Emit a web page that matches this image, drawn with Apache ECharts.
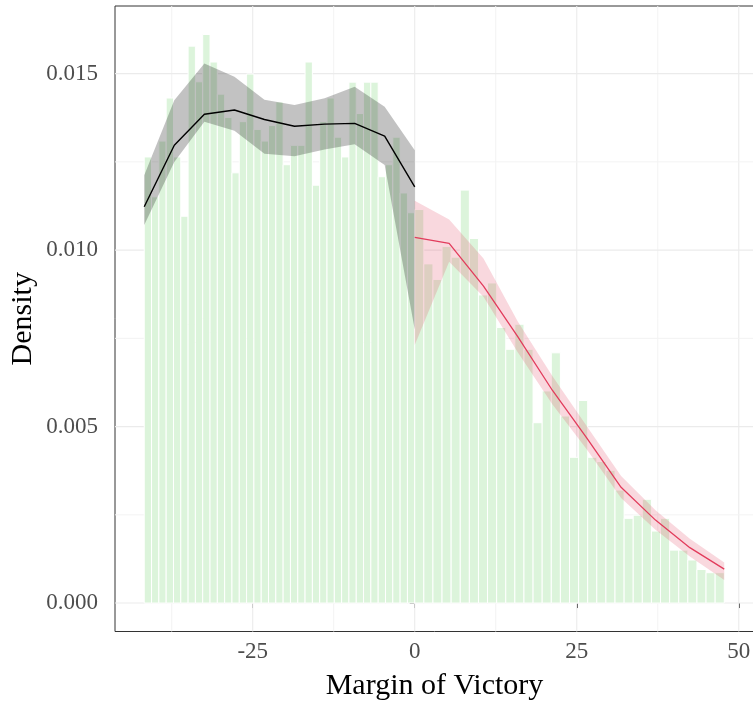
<!DOCTYPE html>
<html><head><meta charset="utf-8">
<script src="https://cdn.jsdelivr.net/npm/echarts@6/dist/echarts.min.js"></script>
<style>html,body{margin:0;padding:0;background:#fff}#c{width:753px;height:703px}</style>
</head><body><div id="c"></div>
<script>
// ---- data ----
const leftBinStart = -41.74, leftBinEnd = 0;
const rightBinStart = 0, rightBinEnd = 47.76;
const leftDensity = [0.01264,0.01151,0.01309,0.01431,0.01264,0.01096,0.01578,0.01477,0.01611,0.01533,
  0.01442,0.01376,0.01219,0.01364,0.01499,0.01342,0.01309,0.01353,0.01420,0.01242,
  0.01297,0.01297,0.01533,0.01184,0.01364,0.01431,0.01320,0.01264,0.01476,0.01387,
  0.01476,0.01476,0.01208,0.01242,0.01320,0.01162,0.01106];
const rightDensity = [0.01115,0.00961,0.00917,0.01010,0.00980,0.01170,0.01033,0.00873,0.00907,0.00781,
  0.00719,0.00790,0.00719,0.00511,0.00601,0.00709,0.00530,0.00413,0.00574,0.00413,
  0.00401,0.00376,0.00320,0.00240,0.00249,0.00294,0.00204,0.00240,0.00150,0.00150,
  0.00122,0.00095,0.00086,0.00086];
const blackX  = [-41.74,-37.10,-32.46,-27.82,-23.19,-18.55,-13.91,-9.27,-4.64,0];
const blackFit= [0.01123,0.01297,0.01385,0.01397,0.01370,0.01351,0.01357,0.01359,0.01323,0.01179];
const blackLo = [0.01071,0.01250,0.01364,0.01338,0.01273,0.01266,0.01285,0.01300,0.01241,0.00775];
const blackHi = [0.01212,0.01425,0.01529,0.01491,0.01426,0.01411,0.01430,0.01463,0.01406,0.01283];
const redX  = [0,5.31,10.61,15.92,21.23,26.53,31.84,37.15,42.45,47.76];
const redFit= [0.01036,0.01019,0.00898,0.00754,0.00603,0.00468,0.00328,0.00235,0.00157,0.00096];
const redLo = [0.00731,0.00967,0.00868,0.00710,0.00563,0.00436,0.00298,0.00208,0.00132,0.00065];
const redHi = [0.01140,0.01087,0.00976,0.00797,0.00643,0.00502,0.00360,0.00263,0.00182,0.00115];
const xTicks = [-25,0,25,50];
const xMinorGrid = [-37.5,-12.5,12.5,37.5];
const yTicks = [0,0.005,0.010,0.015];
const yMinorGrid = [0.0025,0.0075,0.0125];
const xLabel = 'Margin of Victory', yLabel = 'Density';

// ---- build ----
const X_MIN = -46.25, X_MAX = 52.35, Y_MIN = -0.000806, Y_MAX = 0.016917;
function bins(start, end, vals){
  const w = (end-start)/vals.length;
  return vals.map((v,i)=>[start+i*w, start+(i+1)*w, v]);
}
const barData = bins(leftBinStart,leftBinEnd,leftDensity).concat(bins(rightBinStart,rightBinEnd,rightDensity));
const gridData = xTicks.map(v=>['x',v,1]).concat(xMinorGrid.map(v=>['x',v,0]))
  .concat(yTicks.map(v=>['y',v,1])).concat(yMinorGrid.map(v=>['y',v,0]));

function bandSeries(xs, lo, hi, color, z){
  return {type:'custom', z:z, silent:true, data:[0],
    renderItem:function(params, api){
      const pts=[];
      for(let i=0;i<xs.length;i++) pts.push(api.coord([xs[i],hi[i]]));
      for(let i=xs.length-1;i>=0;i--) pts.push(api.coord([xs[i],lo[i]]));
      return {type:'polygon', shape:{points:pts}, style:{fill:color}};
    }};
}
const font = 'Liberation Serif';
const chart = echarts.init(document.getElementById('c'), null, {renderer:'canvas'});
chart.setOption({
  animation:false,
  backgroundColor:'#fff',
  grid:{left:115, right:-1, top:6, bottom:71.5, containLabel:false, outerBoundsMode:'none',
    show:true, borderColor:'#333', borderWidth:1, backgroundColor:'#fff'},
  xAxis:{type:'value', min:X_MIN, max:X_MAX,
    axisLine:{show:false}, splitLine:{show:false},
    axisTick:{show:true, length:5, lineStyle:{color:'#333'}, customValues:xTicks},
    axisLabel:{customValues:xTicks, fontFamily:font, fontSize:23, color:'#4d4d4d', margin:9,
      formatter:v=>String(v)},
    name:xLabel, nameLocation:'middle', nameGap:40, nameMoveOverlap:false,
    nameTextStyle:{fontFamily:font, fontSize:30, color:'#000'}},
  yAxis:{type:'value', min:Y_MIN, max:Y_MAX,
    axisLine:{show:false}, splitLine:{show:false},
    axisTick:{show:true, length:5, lineStyle:{color:'#333'}, customValues:yTicks},
    axisLabel:{customValues:yTicks, fontFamily:font, fontSize:23, color:'#4d4d4d', margin:17,
      formatter:v=>v.toFixed(3)},
    name:yLabel, nameLocation:'middle', nameGap:77, nameRotate:90, nameMoveOverlap:false,
    nameTextStyle:{fontFamily:font, fontSize:30, color:'#000'}},
  series:[
    {type:'custom', z:1, silent:true, data:gridData,
      renderItem:function(params, api){
        const d = gridData[params.dataIndex];
        let p0,p1;
        if(d[0]==='x'){ p0=api.coord([d[1],Y_MIN]); p1=api.coord([d[1],Y_MAX]); }
        else { p0=api.coord([X_MIN,d[1]]); p1=api.coord([X_MAX,d[1]]); }
        return {type:'line', shape:{x1:p0[0],y1:p0[1],x2:p1[0],y2:p1[1]},
          style:{stroke: d[2]? '#ebebeb':'#f3f3f3', lineWidth: d[2]?1.1:1}};
      }},
    {type:'custom', z:2, silent:true, data:barData,
      renderItem:function(params, api){
        const p0 = api.coord([api.value(0), api.value(2)]);
        const p1 = api.coord([api.value(1), 0]);
        return {type:'rect', shape:{x:p0[0], y:p0[1], width:p1[0]-p0[0], height:p1[1]-p0[1]},
          style:{fill:'rgb(220,244,219)', stroke:'#fff', lineWidth:1}};
      }},
    bandSeries(blackX, blackLo, blackHi, 'rgba(0,0,0,0.24)', 3),
    {type:'line', z:4, silent:true, symbol:'none', data:blackX.map((x,i)=>[x,blackFit[i]]),
      lineStyle:{color:'#000', width:1.4}},
    bandSeries(redX, redLo, redHi, 'rgba(226,60,92,0.2)', 3),
    {type:'line', z:4, silent:true, symbol:'none', data:redX.map((x,i)=>[x,redFit[i]]),
      lineStyle:{color:'#e23c5c', width:1.3}}
  ]
});
</script></body></html>
